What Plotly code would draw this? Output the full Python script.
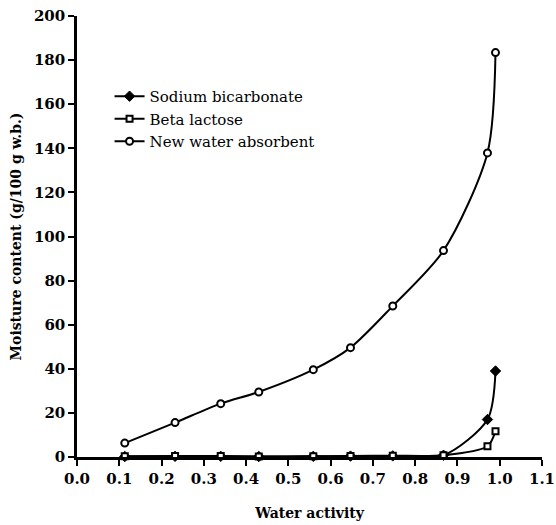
import plotly.graph_objects as go

water_activity = [0.113, 0.232, 0.340, 0.430, 0.559, 0.647, 0.747, 0.867, 0.971, 0.990]
sodium_bicarbonate = [0.2, 0.3, 0.3, 0.2, 0.3, 0.4, 0.5, 0.8, 17.0, 39.0]
beta_lactose = [0.3, 0.5, 0.4, 0.2, 0.3, 0.5, 0.6, 0.8, 4.9, 11.7]
new_absorbent = [6.3, 15.6, 24.2, 29.5, 39.6, 49.6, 68.5, 93.6, 137.9, 183.4]

x_ticks = [0.0, 0.1, 0.2, 0.3, 0.4, 0.5, 0.6, 0.7, 0.8, 0.9, 1.0, 1.1]
y_ticks = [0, 20, 40, 60, 80, 100, 120, 140, 160, 180, 200]

font_family = "DejaVu Serif"

fig = go.Figure()
fig.add_trace(go.Scatter(
    x=water_activity, y=sodium_bicarbonate, name="Sodium bicarbonate",
    mode="lines+markers", line=dict(color="black", width=2, shape="spline", smoothing=0.8),
    marker=dict(symbol="diamond", size=8, color="black", line=dict(color="black", width=1)),
    cliponaxis=False))
fig.add_trace(go.Scatter(
    x=water_activity, y=beta_lactose, name="Beta lactose",
    mode="lines+markers", line=dict(color="black", width=2, shape="spline", smoothing=0.8),
    marker=dict(symbol="square", size=6, color="white", line=dict(color="black", width=2)),
    cliponaxis=False))
fig.add_trace(go.Scatter(
    x=water_activity, y=new_absorbent, name="New water absorbent",
    mode="lines+markers", line=dict(color="black", width=2, shape="spline", smoothing=0.8),
    marker=dict(symbol="circle", size=7, color="white", line=dict(color="black", width=2)),
    cliponaxis=False))

fig.update_layout(
    width=556, height=525,
    margin=dict(l=77, r=14, t=16, b=68, autoexpand=False),
    paper_bgcolor="white", plot_bgcolor="white",
    font=dict(family=font_family, size=15, color="black"),
    showlegend=True,
    legend=dict(x=0.07, y=0.855, xanchor="left", yanchor="top",
                bgcolor="rgba(0,0,0,0)", font=dict(size=15, family=font_family),
                tracegroupgap=0, itemwidth=30),
    xaxis=dict(range=[0, 1.1], tickvals=x_ticks, ticktext=[f"{v:.1f}" for v in x_ticks],
               showgrid=False, zeroline=False, showline=True, linecolor="black", linewidth=2.5,
               ticks="outside", ticklen=6, tickwidth=2, tickcolor="black", automargin=False,
               tickfont=dict(size=15, family=font_family, weight="bold"),
               title=dict(text="<b>Water activity</b>", font=dict(size=14, family=font_family), standoff=22)),
    yaxis=dict(range=[0, 200], tickvals=y_ticks,
               showgrid=False, zeroline=False, showline=True, linecolor="black", linewidth=2.5,
               ticks="outside", ticklen=6, tickwidth=2, tickcolor="black", automargin=False,
               tickfont=dict(size=15, family=font_family, weight="bold"),
               title=dict(text="<b>Moisture content (g/100 g w.b.)</b>", font=dict(size=14, family=font_family), standoff=10)),
)

# remove the browser's default 8px body margin so the figure sits at the page origin
fig.write_html("out.html", config={"displayModeBar": False},
               post_script="document.body.style.margin='0';")
